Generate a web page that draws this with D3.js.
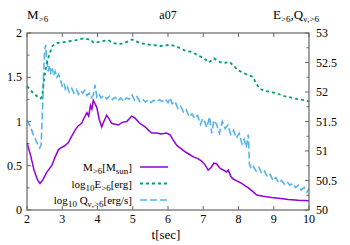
<!DOCTYPE html>
<html>
<head>
<meta charset="utf-8">
<script src="https://cdn.jsdelivr.net/npm/d3@7"></script>
<style>
  body { margin: 0; background: #fff; }
  svg text { font-family: "Liberation Serif", "DejaVu Serif", serif; fill: #000; }
</style>
</head>
<body>
<div id="chart"></div>
<script>
// mass above 6 (left axis)
const tM = [2.00, 2.10, 2.20, 2.30, 2.37, 2.45, 2.55, 2.70, 2.80, 2.89, 2.95, 3.05, 3.17, 3.25, 3.36, 3.45, 3.55, 3.62, 3.70, 3.75, 3.80, 3.84, 3.88, 3.93, 3.98, 4.05, 4.12, 4.18, 4.26, 4.33, 4.40, 4.50, 4.59, 4.70, 4.83, 4.90, 4.97, 5.06, 5.20, 5.35, 5.45, 5.54, 5.68, 5.80, 5.96, 6.06, 6.15, 6.25, 6.35, 6.48, 6.60, 6.72, 6.85, 6.96, 7.05, 7.14, 7.22, 7.30, 7.38, 7.48, 7.58, 7.66, 7.71, 7.78, 7.85, 7.95, 8.09, 8.20, 8.28, 8.40, 8.52, 8.70, 8.94, 9.20, 9.41, 9.70, 10.0];
const mVals = [0.76, 0.62, 0.45, 0.34, 0.30, 0.34, 0.42, 0.50, 0.60, 0.68, 0.70, 0.72, 0.76, 0.82, 0.90, 0.95, 0.98, 1.04, 1.10, 1.06, 1.18, 1.14, 1.24, 1.20, 1.16, 1.02, 0.94, 1.00, 1.07, 1.03, 0.98, 0.97, 0.96, 0.99, 1.00, 1.03, 1.06, 1.04, 0.98, 0.94, 0.90, 0.87, 0.87, 0.86, 0.87, 0.85, 0.79, 0.73, 0.70, 0.66, 0.63, 0.60, 0.58, 0.55, 0.51, 0.45, 0.48, 0.53, 0.52, 0.47, 0.45, 0.43, 0.45, 0.38, 0.35, 0.33, 0.30, 0.27, 0.25, 0.21, 0.17, 0.155, 0.14, 0.13, 0.12, 0.11, 0.105];

// log10 E (right axis)
const tE = [2.00, 2.15, 2.30, 2.38, 2.43, 2.48, 2.55, 2.63, 2.72, 2.85, 3.00, 3.20, 3.40, 3.60, 3.80, 3.90, 4.05, 4.30, 4.45, 4.60, 4.80, 4.98, 5.20, 5.50, 5.80, 6.06, 6.25, 6.45, 6.65, 6.83, 7.02, 7.16, 7.30, 7.47, 7.55, 7.75, 7.98, 8.26, 8.40, 8.50, 8.60, 8.83, 9.07, 9.30, 9.60, 9.88, 10.0];
const eVals = [52.10, 52.00, 51.92, 51.89, 51.92, 52.20, 52.45, 52.63, 52.78, 52.83, 52.84, 52.86, 52.88, 52.91, 52.89, 52.83, 52.85, 52.88, 52.83, 52.81, 52.84, 52.89, 52.83, 52.80, 52.78, 52.80, 52.77, 52.71, 52.68, 52.63, 52.57, 52.50, 52.57, 52.51, 52.49, 52.51, 52.37, 52.29, 52.26, 52.15, 52.05, 52.01, 51.98, 51.93, 51.89, 51.86, 51.84];

// log10 Q_nu (right axis)
const tQ = [2.00, 2.10, 2.20, 2.30, 2.36, 2.40, 2.44, 2.47, 2.50, 2.53, 2.56, 2.60, 2.64, 2.68, 2.72, 2.76, 2.80, 2.85, 2.90, 2.95, 3.00, 3.05, 3.10, 3.15, 3.20, 3.27, 3.33, 3.40, 3.46, 3.52, 3.58, 3.64, 3.70, 3.76, 3.82, 3.88, 3.93, 3.98, 4.04, 4.10, 4.18, 4.26, 4.34, 4.42, 4.50, 4.58, 4.66, 4.74, 4.82, 4.90, 4.98, 5.05, 5.12, 5.20, 5.28, 5.36, 5.44, 5.52, 5.60, 5.68, 5.76, 5.84, 5.92, 6.00, 6.06, 6.12, 6.20, 6.28, 6.36, 6.44, 6.52, 6.60, 6.68, 6.76, 6.84, 6.92, 6.98, 7.04, 7.10, 7.18, 7.24, 7.30, 7.38, 7.46, 7.54, 7.62, 7.70, 7.78, 7.86, 7.94, 8.02, 8.10, 8.16, 8.22, 8.28, 8.31, 8.36, 8.42, 8.50, 8.58, 8.66, 8.74, 8.82, 8.90, 8.98, 9.06, 9.14, 9.22, 9.30, 9.38, 9.46, 9.54, 9.62, 9.70, 9.78, 9.86, 9.94, 10.0];
const qVals = [51.53, 51.40, 51.25, 51.12, 51.05, 51.10, 51.70, 52.30, 52.70, 52.80, 52.55, 52.35, 52.45, 52.30, 52.40, 52.28, 52.35, 52.25, 52.30, 52.20, 52.10, 52.15, 52.02, 52.08, 52.00, 52.06, 51.98, 52.04, 51.96, 52.02, 51.98, 52.03, 51.94, 51.98, 51.90, 51.95, 52.12, 51.92, 51.97, 51.90, 51.94, 51.88, 51.93, 51.87, 51.91, 51.85, 51.90, 51.84, 51.90, 51.88, 51.95, 51.86, 51.92, 51.84, 51.88, 51.83, 51.87, 51.82, 51.86, 51.83, 51.87, 51.84, 51.88, 51.82, 51.90, 51.80, 51.84, 51.72, 51.76, 51.66, 51.70, 51.58, 51.63, 51.55, 51.60, 51.45, 51.55, 51.50, 51.40, 51.58, 51.30, 51.52, 51.45, 51.30, 51.50, 51.38, 51.44, 51.28, 51.35, 51.22, 51.30, 51.12, 51.20, 51.06, 51.28, 50.78, 50.70, 50.74, 50.66, 50.72, 50.62, 50.66, 50.56, 50.60, 50.50, 50.55, 50.46, 50.50, 50.44, 50.48, 50.42, 50.45, 50.38, 50.42, 50.34, 50.38, 50.30, 50.36];

const xTicks = [2, 3, 4, 5, 6, 7, 8, 9, 10];
const yTicks = [0, 0.5, 1, 1.5, 2];
const y2Ticks = [50, 50.5, 51, 51.5, 52, 52.5, 53];

const W = 350, H = 245;
const margin = { top: 33, right: 41, bottom: 35, left: 27 };
const innerW = W - margin.left - margin.right;
const innerH = H - margin.top - margin.bottom;

const colM = '#9400d3', colE = '#009e73', colQ = '#56b4e9', axisCol = '#666';

const svg = d3.select('#chart').append('svg')
    .attr('width', W)
    .attr('height', H);

const x = d3.scaleLinear().domain([2, 10]).range([margin.left, margin.left + innerW]);
const y = d3.scaleLinear().domain([0, 2]).range([margin.top + innerH, margin.top]);
const y2 = d3.scaleLinear().domain([50, 53]).range([margin.top + innerH, margin.top]);

const x0 = margin.left, x1 = margin.left + innerW;
const yb = margin.top + innerH, yt = margin.top;

// ticks (inward, mirrored x)
const tickG = svg.append('g').attr('stroke', axisCol).attr('stroke-width', 1);
xTicks.forEach(t => {
    tickG.append('line').attr('x1', x(t)).attr('x2', x(t)).attr('y1', yb).attr('y2', yb - 4);
    tickG.append('line').attr('x1', x(t)).attr('x2', x(t)).attr('y1', yt).attr('y2', yt + 4);
});
d3.range(0, 2.01, 0.25).forEach(v => {
    const major = Math.abs(v * 2 - Math.round(v * 2)) < 1e-6;
    tickG.append('line').attr('x1', x0).attr('x2', x0 + (major ? 4 : 2.5)).attr('y1', y(v)).attr('y2', y(v));
});
d3.range(50, 53.01, 0.25).forEach(v => {
    const major = Math.abs(v * 2 - Math.round(v * 2)) < 1e-6;
    tickG.append('line').attr('x1', x1).attr('x2', x1 - (major ? 4 : 2.5)).attr('y1', y2(v)).attr('y2', y2(v));
});

// tick labels
svg.append('g').selectAll('text')
    .data(xTicks).enter().append('text')
    .attr('x', d => x(d)).attr('y', yb + 13)
    .attr('text-anchor', 'middle').attr('font-size', 12)
    .text(d => d);
svg.append('g').selectAll('text')
    .data(yTicks).enter().append('text')
    .attr('x', x0 - 5).attr('y', d => y(d) + 4)
    .attr('text-anchor', 'end').attr('font-size', 12)
    .text(d => d);
svg.append('g').selectAll('text')
    .data(y2Ticks).enter().append('text')
    .attr('x', x1 + 7).attr('y', d => y2(d) + 4)
    .attr('text-anchor', 'start').attr('font-size', 12)
    .text(d => d);

// data lines
const lineM = d3.line().x((d, i) => x(tM[i])).y(d => y(d));
const lineE = d3.line().x((d, i) => x(tE[i])).y(d => y2(d));
const lineQ = d3.line().x((d, i) => x(tQ[i])).y(d => y2(d));

svg.append('path').attr('d', lineQ(qVals))
    .attr('fill', 'none').attr('stroke', colQ).attr('stroke-width', 1.6)
    .attr('stroke-dasharray', '7,3');
svg.append('path').attr('d', lineE(eVals))
    .attr('fill', 'none').attr('stroke', colE).attr('stroke-width', 1.8)
    .attr('stroke-dasharray', '3,3');
svg.append('path').attr('d', lineM(mVals))
    .attr('fill', 'none').attr('stroke', colM).attr('stroke-width', 1.5);

// border
svg.append('rect')
    .attr('x', x0).attr('y', yt).attr('width', innerW).attr('height', innerH)
    .attr('fill', 'none').attr('stroke', axisCol).attr('stroke-width', 1.2);

// helper for text with subscripts: parts = [[text, 'n'|'s'], ...]
function richText(g, px, py, anchor, parts, size) {
    const t = g.append('text').attr('x', px).attr('y', py)
        .attr('text-anchor', anchor).attr('font-size', size || 12);
    let prev = 'n';
    parts.forEach(([s, k]) => {
        const ts = t.append('tspan').text(s);
        if (k === 's') ts.attr('font-size', 9);
        if (k !== prev) ts.attr('dy', k === 's' ? 3 : -3);
        prev = k;
    });
    return t;
}

// titles
richText(svg, x0, 19, 'start', [['M', 'n'], ['>6', 's']], 13);
svg.append('text').attr('x', (x0 + x1) / 2).attr('y', 19)
    .attr('text-anchor', 'middle').attr('font-size', 12).text('a07');
richText(svg, 273, 19, 'start', [['E', 'n'], ['>6', 's'], [',Q', 'n'], ['ν,>6', 's']], 13);
svg.append('text').attr('x', 166).attr('y', 239)
    .attr('text-anchor', 'middle').attr('font-size', 13).text('t[sec]');

// legend
const legend = svg.append('g');
const legRows = [
    { parts: [['M', 'n'], ['>6', 's'], ['[M', 'n'], ['sun', 's'], [']', 'n']], col: colM, dash: null, w: 1.5 },
    { parts: [['log', 'n'], ['10', 's'], ['E', 'n'], ['>6', 's'], ['[erg]', 'n']], col: colE, dash: '3,3', w: 1.8 },
    { parts: [['log', 'n'], ['10', 's'], [' Q', 'n'], ['ν,>6', 's'], ['[erg/s]', 'n']], col: colQ, dash: '7,3', w: 1.6 }
];
legRows.forEach((r, i) => {
    const ly = 167 + i * 16.5;
    richText(legend, 132, ly + 4, 'end', r.parts, 11);
    legend.append('line')
        .attr('x1', 140).attr('x2', 168).attr('y1', ly).attr('y2', ly)
        .attr('stroke', r.col).attr('stroke-width', r.w)
        .attr('stroke-dasharray', r.dash);
});
</script>
</body>
</html>
